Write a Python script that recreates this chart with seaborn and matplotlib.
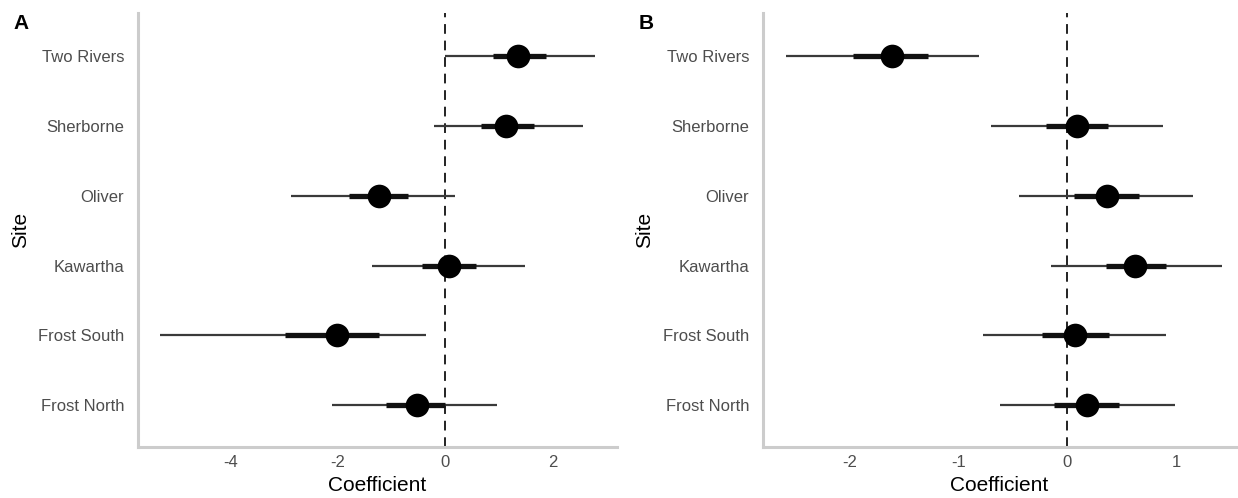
import pandas as pd
import seaborn as sns
import matplotlib.pyplot as plt
import numpy as np

# sites, top to bottom as shown
sites = ["Two Rivers", "Sherborne", "Oliver", "Kawartha", "Frost South", "Frost North"]

# panel A: estimate, outer (95%) and inner (50%) intervals
a_est = [1.36, 1.14, -1.23, 0.07, -2.01, -0.53]
a_lo_outer = [0.0, -0.20, -2.87, -1.36, -5.31, -2.11]
a_hi_outer = [2.79, 2.57, 0.19, 1.49, -0.35, 0.97]
a_lo_inner = [0.89, 0.67, -1.79, -0.44, -2.99, -1.10]
a_hi_inner = [1.88, 1.66, -0.69, 0.57, -1.23, 0.0]

# panel B
b_est = [-1.61, 0.09, 0.36, 0.62, 0.07, 0.18]
b_lo_outer = [-2.59, -0.70, -0.45, -0.15, -0.78, -0.62]
b_hi_outer = [-0.81, 0.88, 1.15, 1.42, 0.91, 0.99]
b_lo_inner = [-1.97, -0.20, 0.06, 0.35, -0.23, -0.12]
b_hi_inner = [-1.28, 0.37, 0.66, 0.91, 0.38, 0.47]

sns.set_style("white")
plt.rcParams["font.family"] = ["Liberation Sans", "DejaVu Sans"]
plt.rcParams["axes.unicode_minus"] = False


# one coefficient panel
def plot_panel(ax, est, lo_o, hi_o, lo_i, hi_i, xlim, xticks):
    df = pd.DataFrame(
        {
            "Site": sites,
            "pos": np.arange(len(sites)),
            "Coefficient": est,
            "lo_o": lo_o,
            "hi_o": hi_o,
            "lo_i": lo_i,
            "hi_i": hi_i,
        }
    )
    ax.axvline(0, color="#222222", lw=1.4, ls=(0, (5, 3.5)), zorder=1)
    ax.hlines(df["pos"], df["lo_o"], df["hi_o"], color="#3a3a3a", lw=1.6, zorder=2)
    ax.hlines(df["pos"], df["lo_i"], df["hi_i"], color="#111111", lw=3.8, zorder=3)
    sns.scatterplot(
        x="Coefficient",
        y="pos",
        data=df,
        ax=ax,
        color="black",
        s=290,
        edgecolor="black",
        linewidth=0,
        zorder=4,
    )
    ax.set_yticks(df["pos"])
    ax.set_yticklabels(sites)
    ax.set_ylim(len(sites) - 0.4, -0.62)
    ax.set_xlim(*xlim)
    ax.set_xticks(xticks)
    ax.tick_params(axis="both", length=0, labelsize=12, colors="#4d4d4d")
    ax.tick_params(axis="y", pad=10)
    ax.tick_params(axis="x", pad=6)
    ax.set_ylabel("Site", fontsize=15, color="black", labelpad=6)
    ax.set_xlabel("Coefficient", fontsize=15, color="black", labelpad=4)
    sns.despine(ax=ax)
    for side in ["left", "bottom"]:
        ax.spines[side].set_color("#cccccc")
        ax.spines[side].set_linewidth(2.2)
    ax.grid(False)


fig = plt.figure(figsize=(12.38, 4.98), dpi=100)
ax_a = fig.add_axes([0.1115, 0.1024, 0.3869, 0.8715])
ax_b = fig.add_axes([0.6163, 0.1024, 0.3821, 0.8715])

plot_panel(ax_a, a_est, a_lo_outer, a_hi_outer, a_lo_inner, a_hi_inner,
           (-5.72, 3.2), [-4, -2, 0, 2])
plot_panel(ax_b, b_est, b_lo_outer, b_hi_outer, b_lo_inner, b_hi_inner,
           (-2.80, 1.55), [-2, -1, 0, 1])

fig.text(0.011, 0.953, "A", fontsize=15, fontweight="bold", va="center", color="black")
fig.text(0.516, 0.953, "B", fontsize=15, fontweight="bold", va="center", color="black")

fig.savefig("out.png", dpi=100)
